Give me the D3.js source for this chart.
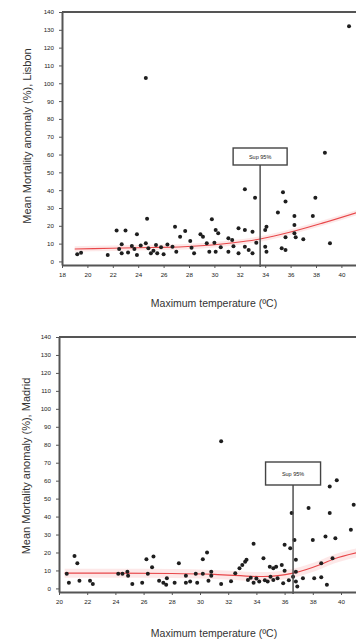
<!DOCTYPE html>
<html>
<head>
<meta charset="utf-8">
<script src="https://cdn.jsdelivr.net/npm/d3@7"></script>
<style>
  html, body { margin: 0; padding: 0; background: #fff; }
  svg { display: block; }
  text { font-family: "Liberation Sans", Arial, sans-serif; }
</style>
</head>
<body>
<svg id="chart" width="356" height="641"></svg>
<script>
// Lisbon: daily maximum temperature (ºC) vs mean mortality anomaly (%)
const lisbonTemp = [19.2, 19.5, 21.6, 22.3, 23.0, 22.7, 22.5, 22.7, 23.5, 23.7, 23.9, 23.9, 24.7, 24.6, 24.6, 24.8, 25.0, 25.4, 25.5, 25.8, 26.0, 26.9, 26.7, 27.0, 27.3, 27.7, 28.1, 28.2, 28.4, 28.9, 29.1, 29.4, 29.6, 29.8, 30.1, 30.3, 30.0, 30.1, 30.5, 31.1, 31.4, 31.1, 31.5, 31.9, 31.9, 32.4, 33.0, 32.4, 33.2, 32.4, 32.7, 33.0, 33.3, 34.1, 34.0, 34.0, 34.1, 35.0, 35.4, 35.6, 36.3, 36.3, 36.3, 35.6, 36.4, 37.0, 35.3, 35.6, 37.75, 37.95, 38.7, 39.1, 40.6, 24.2, 25.2, 26.3, 23.2];
const lisbonAnom = [4.0, 4.9, 3.6, 17.3, 17.3, 9.6, 7.0, 4.6, 8.7, 7.0, 3.6, 15.2, 24.0, 103, 10.2, 7.4, 4.6, 9.2, 4.6, 8.0, 4.0, 19.5, 8.3, 5.5, 13.9, 17.1, 11.5, 7.7, 4.6, 15.2, 13.9, 10.2, 5.5, 23.7, 17.7, 15.8, 10.5, 5.5, 8.0, 13.0, 12.0, 5.5, 8.5, 18.6, 4.6, 17.7, 16.7, 40.5, 35.8, 8.3, 6.4, 4.6, 10.5, 19.5, 17.7, 8.3, 5.5, 27.4, 38.8, 33.6, 25.5, 20.5, 15.8, 13.6, 13.6, 12.4, 7.4, 6.4, 25.5, 35.8, 61, 10.2, 132, 9.0, 6.0, 9.5, 5.0];
const lisbonFitTemp = [19, 22, 25, 27.2, 29.8, 31.5, 33.6, 36, 38.5, 41.2];
const lisbonFitVal  = [7.0, 7.4, 7.8, 8.1, 9.2, 10.5, 12.6, 16.5, 21.5, 27.4];
const lisbonThreshold = 33.6;
const lisbonXTicks = [18, 20, 22, 24, 26, 28, 30, 32, 34, 36, 38, 40];

// Madrid: daily maximum temperature (ºC) vs mean mortality anomaly (%)
const madridTemp = [20.55, 20.7, 21.1, 21.3, 21.45, 22.2, 22.4, 24.2, 24.5, 24.85, 24.9, 25.2, 25.9, 26.2, 26.7, 26.6, 26.3, 27.1, 27.4, 27.65, 27.6, 28.2, 28.5, 29.0, 29.0, 29.3, 29.7, 29.8, 30.2, 30.2, 30.5, 30.6, 30.8, 30.8, 31.5, 31.5, 32.5, 32.8, 33.0, 33.2, 33.3, 33.4, 33.8, 33.8, 34.2, 34.5, 34.8, 34.95, 35.2, 35.4, 35.2, 35.5, 35.9, 35.8, 36.0, 36.4, 36.0, 36.5, 36.7, 36.8, 36.8, 36.6, 36.8, 36.9, 37.3, 37.7, 38.0, 38.1, 38.6, 38.6, 38.9, 39.2, 39.0, 39.2, 39.7, 39.6, 39.4, 40.7, 40.9, 34.0, 34.6, 35.0, 33.6, 32.2, 36.3];
const madridAnom = [8.1, 3.2, 18.1, 14.0, 4.3, 4.3, 2.5, 8.1, 8.1, 9.3, 7.0, 2.5, 3.2, 16.3, 17.7, 11.8, 8.1, 4.3, 3.2, 5.6, 2.0, 3.2, 14.0, 7.0, 3.2, 3.8, 8.1, 3.2, 8.1, 16.3, 20.0, 4.3, 9.3, 7.0, 82, 2.5, 8.4, 11.2, 13.1, 14.9, 15.9, 4.7, 3.2, 24.8, 3.8, 16.8, 3.8, 12.1, 11.2, 12.1, 4.7, 5.6, 2.9, 13.1, 24.3, 22.4, 9.9, 42, 27, 15.9, 9.3, 6.5, 3.8, 1.0, 5.6, 44.8, 27, 5.6, 6.2, 14, 28.9, 42, 2.0, 56.8, 60.2, 28, 16.8, 32.6, 46.6, 5.5, 4.5, 6.5, 6.0, 4.0, 4.5];
const madridFitTemp = [20.4, 24, 28, 31, 34.5, 36.6, 38.6, 39.5, 41.2];
const madridFitVal  = [8.5, 8.5, 8.3, 7.8, 6.6, 8.5, 13.5, 16.4, 20.0];
const madridThreshold = 36.6;
const madridXTicks = [20, 22, 24, 26, 28, 30, 32, 34, 36, 38, 40];

const yTicks = [0, 10, 20, 30, 40, 50, 60, 70, 80, 90, 100, 110, 120, 130, 140];
const thresholdLabel = "Sup 95%";
const xTitle = "Maximum temperature (ºC)";

const svg = d3.select("#chart");

function panel(opt) {
  const g = svg.append("g");
  const x = d3.scaleLinear().domain(opt.xDomain).range([opt.left, opt.right]);
  const y = d3.scaleLinear().domain([-2, 140]).range([opt.bottom, opt.top]);

  // top frame line
  g.append("line")
    .attr("x1", opt.left).attr("x2", opt.right)
    .attr("y1", opt.top).attr("y2", opt.top)
    .attr("stroke", "#555").attr("stroke-width", 1.8);

  // confidence band around the fitted curve
  const band = d3.area()
    .x((d, i) => x(opt.fitT[i]))
    .y0((d) => y(d - opt.band))
    .y1((d) => y(d + opt.band))
    .curve(d3.curveMonotoneX);
  g.append("path").datum(opt.fitV)
    .attr("d", band)
    .attr("fill", "rgba(240,110,110,0.16)");

  // fitted curve
  const line = d3.line()
    .x((d, i) => x(opt.fitT[i]))
    .y((d) => y(d))
    .curve(d3.curveMonotoneX);
  g.append("path").datum(opt.fitV)
    .attr("d", line)
    .attr("fill", "none")
    .attr("stroke", "#e8474a")
    .attr("stroke-width", 1.1);

  // observations
  g.selectAll("circle.obs").data(opt.t)
    .join("circle")
    .attr("class", "obs")
    .attr("cx", (d) => x(d))
    .attr("cy", (d, i) => y(opt.v[i]))
    .attr("r", 2)
    .attr("fill", "#1e1e1e");

  // threshold marker
  const tx = x(opt.threshold);
  g.append("line")
    .attr("x1", tx).attr("x2", tx)
    .attr("y1", opt.boxY + opt.boxH).attr("y2", opt.bottom + 2)
    .attr("stroke", "#444").attr("stroke-width", 1.4);
  g.append("rect")
    .attr("x", tx - opt.boxW / 2).attr("y", opt.boxY)
    .attr("width", opt.boxW).attr("height", opt.boxH)
    .attr("fill", "#fff").attr("stroke", "#444").attr("stroke-width", 1.4);
  g.append("text")
    .attr("x", tx).attr("y", opt.boxY + opt.boxH / 2 + 2)
    .attr("text-anchor", "middle")
    .attr("font-size", 5.5).attr("fill", "#222")
    .text(thresholdLabel);

  // axes
  const xAxis = d3.axisBottom(x).tickValues(opt.xTicks).tickSize(3).tickPadding(3).tickSizeOuter(0);
  const gx = g.append("g").attr("transform", `translate(0,${opt.bottom})`).call(xAxis);
  const yAxis = d3.axisLeft(y).tickValues(yTicks).tickSize(3).tickPadding(5).tickSizeOuter(0);
  const gy = g.append("g").attr("transform", `translate(${opt.left},0)`).call(yAxis);
  [gx, gy].forEach((a) => {
    a.select(".domain").attr("stroke", "#555").attr("stroke-width", 2);
    a.selectAll(".tick line").attr("stroke", "#555").attr("stroke-width", 1);
    a.selectAll(".tick text").attr("font-size", 6.2).attr("fill", "#222")
      .attr("font-family", "'Liberation Sans', Arial, sans-serif");
  });
  gx.selectAll(".tick text").attr("dy", "0.9em");

  // axis titles
  g.append("text")
    .attr("x", opt.xTitleX).attr("y", opt.xTitleY)
    .attr("text-anchor", "middle")
    .attr("font-size", 10.5).attr("fill", "#333")
    .text(xTitle);
  g.append("text")
    .attr("transform", `translate(${opt.yTitleX},${opt.yTitleY}) rotate(-90)`)
    .attr("text-anchor", "middle")
    .attr("font-size", 11).attr("fill", "#333")
    .text(opt.yTitle);
}

panel({
  t: lisbonTemp, v: lisbonAnom, fitT: lisbonFitTemp, fitV: lisbonFitVal,
  threshold: lisbonThreshold, xTicks: lisbonXTicks,
  xDomain: [18, 42], left: 62, right: 366.8, top: 12, bottom: 265,
  band: 1.5, boxY: 148, boxH: 17, boxW: 54,
  xTitleX: 214, xTitleY: 307, yTitleX: 31, yTitleY: 136,
  yTitle: "Mean Mortality anomaly (%), Lisbon"
});

panel({
  t: madridTemp, v: madridAnom, fitT: madridFitTemp, fitV: madridFitVal,
  threshold: madridThreshold, xTicks: madridXTicks,
  xDomain: [20, 42], left: 59, right: 369.2, top: 337, bottom: 592,
  band: 2.5, boxY: 462, boxH: 23, boxW: 55,
  xTitleX: 214, xTitleY: 637, yTitleX: 30, yTitleY: 466,
  yTitle: "Mean Mortality anomaly (%), Madrid"
});
</script>
</body>
</html>
